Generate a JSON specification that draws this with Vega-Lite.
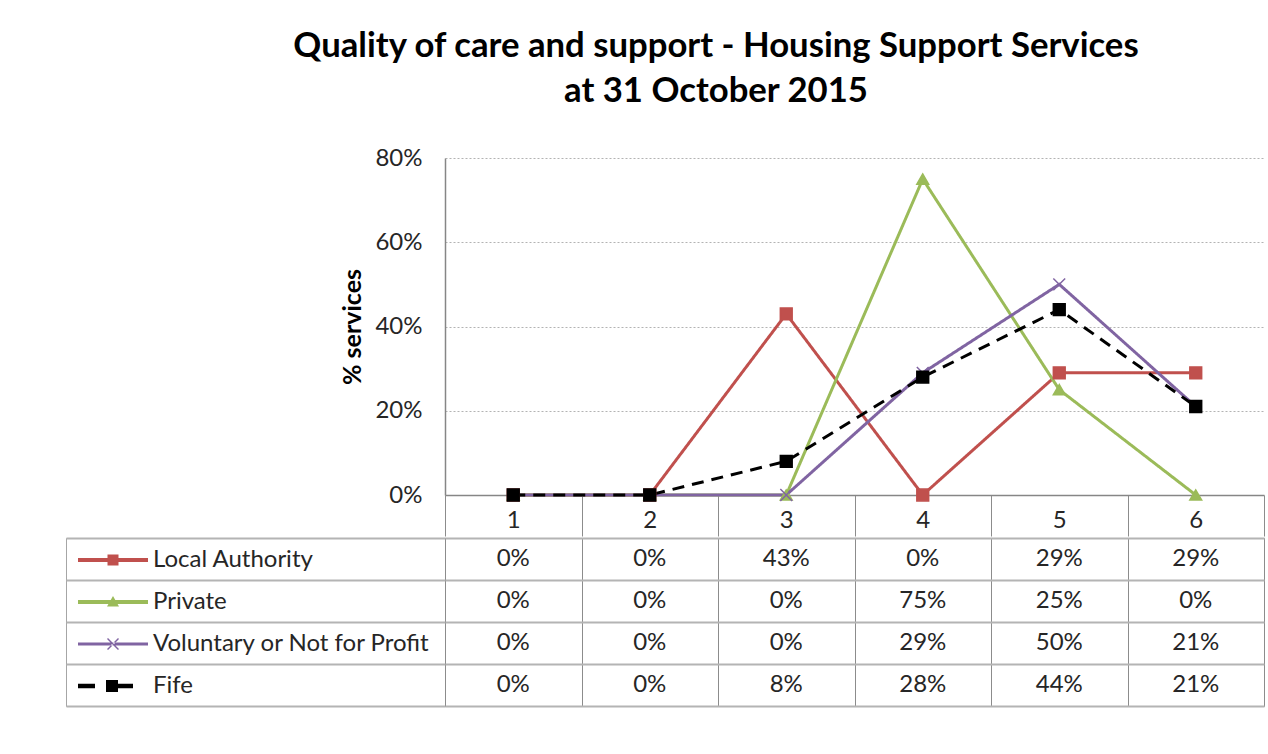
{
  "$schema": "https://vega.github.io/schema/vega-lite/v6.json",
  "padding": {"left": 65, "top": 29, "right": 5, "bottom": 5},
  "title": {
    "text": ["Quality of care and support - Housing Support Services", "at 31 October 2015"],
    "fontSize": 34.7, "lineHeight": 45, "anchor": "middle", "dx": 51, "offset": 36,
    "font": "Lato", "fontWeight": "bold", "color": "#000000"
  },
  "datasets": {
    "main": [
      {"series": "Local Authority", "rating": 1, "value": 0},
      {"series": "Local Authority", "rating": 2, "value": 0},
      {"series": "Local Authority", "rating": 3, "value": 0.43},
      {"series": "Local Authority", "rating": 4, "value": 0},
      {"series": "Local Authority", "rating": 5, "value": 0.29},
      {"series": "Local Authority", "rating": 6, "value": 0.29},
      {"series": "Private", "rating": 1, "value": 0},
      {"series": "Private", "rating": 2, "value": 0},
      {"series": "Private", "rating": 3, "value": 0},
      {"series": "Private", "rating": 4, "value": 0.75},
      {"series": "Private", "rating": 5, "value": 0.25},
      {"series": "Private", "rating": 6, "value": 0},
      {"series": "Voluntary or Not for Profit", "rating": 1, "value": 0},
      {"series": "Voluntary or Not for Profit", "rating": 2, "value": 0},
      {"series": "Voluntary or Not for Profit", "rating": 3, "value": 0},
      {"series": "Voluntary or Not for Profit", "rating": 4, "value": 0.29},
      {"series": "Voluntary or Not for Profit", "rating": 5, "value": 0.50},
      {"series": "Voluntary or Not for Profit", "rating": 6, "value": 0.21},
      {"series": "Fife", "rating": 1, "value": 0},
      {"series": "Fife", "rating": 2, "value": 0},
      {"series": "Fife", "rating": 3, "value": 0.08},
      {"series": "Fife", "rating": 4, "value": 0.28},
      {"series": "Fife", "rating": 5, "value": 0.44},
      {"series": "Fife", "rating": 6, "value": 0.21}
    ]
  },
  "spacing": 0,
  "vconcat": [
    {
      "spacing": 0,
      "bounds": "flush",
      "hconcat": [
        {
          "width": 379,
          "height": 337,
          "data": {"values": []},
          "mark": "point",
          "view": {"stroke": null}
        },
        {
          "width": 819,
          "height": 337,
          "data": {"name": "main"},
          "view": {"stroke": null},
          "encoding": {
            "x": {
              "field": "rating", "type": "ordinal", "bandPosition": 0.5,
              "scale": {"type": "band", "domain": [1, 2, 3, 4, 5, 6], "paddingInner": 0, "paddingOuter": 0},
              "axis": {
                "title": null, "labelAngle": 0, "domainColor": "#868686", "domainWidth": 1.5,
                "ticks": true, "tickBand": "extent", "tickSize": 41, "tickColor": "#8c8c8c",
                "labelPadding": -28, "labelFontSize": 24, "labelColor": "#262626",
                "minExtent": 39, "maxExtent": 39, "grid": false
              }
            },
            "y": {
              "field": "value", "type": "quantitative",
              "scale": {"domain": [0, 0.8], "nice": false},
              "axis": {
                "values": [0, 0.2, 0.4, 0.6, 0.8], "format": ".0%",
                "title": "% services", "titleFontSize": 25, "titleFontWeight": "bold", "titleColor": "#000000",
                "titlePadding": 9, "labelPadding": 23, "labelFontSize": 24, "labelColor": "#262626",
                "ticks": false, "domainColor": "#868686", "domainWidth": 1.5,
                "grid": true, "gridColor": "#b3b3b3", "gridDash": [2, 2]
              }
            }
          },
          "layer": [
            {
              "mark": {"type": "line", "strokeWidth": 3, "strokeCap": "butt"},
              "encoding": {
                "stroke": {
                  "field": "series", "type": "nominal", "legend": null,
                  "scale": {"domain": ["Local Authority", "Private", "Voluntary or Not for Profit", "Fife"], "range": ["#C0504D", "#9BBB59", "#8064A2", "#000000"]}
                },
                "strokeDash": {
                  "field": "series", "type": "nominal", "legend": null,
                  "scale": {"domain": ["Local Authority", "Private", "Voluntary or Not for Profit", "Fife"], "range": [[1, 0], [1, 0], [1, 0], [12, 8]]}
                }
              }
            },
            {
              "mark": {"type": "point", "filled": true, "opacity": 1, "size": 140, "strokeWidth": 1.5},
              "encoding": {
                "fill": {
                  "field": "series", "type": "nominal", "legend": null,
                  "scale": {"domain": ["Local Authority", "Private", "Voluntary or Not for Profit", "Fife"], "range": ["#C0504D", "#9BBB59", "#8064A2", "#000000"]}
                },
                "stroke": {"field": "series", "type": "nominal", "legend": null},
                "shape": {
                  "field": "series", "type": "nominal", "legend": null,
                  "scale": {"domain": ["Local Authority", "Private", "Voluntary or Not for Profit", "Fife"], "range": ["square", "triangle-up", "M-1,-1L1,1M-1,1L1,-1", "square"]}
                }
              }
            }
          ]
        }
      ]
    },
    {
      "spacing": 0,
      "bounds": "flush",
      "hconcat": [
        {
          "width": 379,
          "height": 168,
          "data": {"name": "main"},
          "view": {"stroke": "#a6a6a6"},
          "mark": {"type": "point", "filled": true, "opacity": 0},
          "encoding": {
            "y": {
              "field": "series", "type": "nominal",
              "scale": {"type": "band", "domain": ["Local Authority", "Private", "Voluntary or Not for Profit", "Fife"], "paddingInner": 0, "paddingOuter": 0},
              "axis": {
                "title": null, "labels": false, "ticks": false, "domain": false,
                "grid": true, "tickBand": "extent", "gridColor": "#b4b4b4", "gridWidth": 2,
                "minExtent": 0, "maxExtent": 0
              }
            },
            "color": {
              "field": "series", "type": "nominal",
              "scale": {"domain": ["Local Authority", "Private", "Voluntary or Not for Profit", "Fife"], "range": ["#C0504D", "#9BBB59", "#8064A2", "#000000"]},
              "legend": {"encode": {"symbols": {"update": {"opacity": {"value": 1}}}}}
            },
            "shape": {
              "field": "series", "type": "nominal",
              "scale": {
                "domain": ["Local Authority", "Private", "Voluntary or Not for Profit", "Fife"],
                "range": [
                  "M-1,-0.2H6V0.2H-1Z M1.95,-0.55H3.05V0.55H1.95Z",
                  "M-1,-0.2H6V0.2H-1Z M2.5,-0.6L3.1,0.45H1.9Z",
                  "M-1,-0.15H6V0.15H-1Z M1.9,-0.5L2,-0.6L3.1,0.5L3,0.6Z M3.1,-0.5L3,-0.6L1.9,0.5L2,0.6Z",
                  "M-1,-0.22H0.7V0.22H-1Z M1.8,-0.6H3V0.6H1.8Z M3,-0.22H4.5V0.22H3Z"
                ]
              }
            }
          }
        },
        {
          "width": 819,
          "height": 168,
          "data": {"name": "main"},
          "view": {"stroke": "#a6a6a6"},
          "mark": {"type": "text", "fontSize": 24, "color": "#262626", "align": "center", "baseline": "middle"},
          "encoding": {
            "x": {
              "field": "rating", "type": "ordinal",
              "scale": {"type": "band", "domain": [1, 2, 3, 4, 5, 6], "paddingInner": 0, "paddingOuter": 0},
              "axis": {
                "title": null, "labels": false, "ticks": false, "domain": false,
                "grid": true, "tickBand": "extent", "gridColor": "#8c8c8c", "gridWidth": 1,
                "minExtent": 0, "maxExtent": 0
              }
            },
            "y": {
              "field": "series", "type": "nominal",
              "scale": {"type": "band", "domain": ["Local Authority", "Private", "Voluntary or Not for Profit", "Fife"], "paddingInner": 0, "paddingOuter": 0},
              "axis": {
                "title": null, "labels": false, "ticks": false, "domain": false,
                "grid": true, "tickBand": "extent", "gridColor": "#b4b4b4", "gridWidth": 2,
                "minExtent": 0, "maxExtent": 0
              }
            },
            "text": {"field": "value", "type": "quantitative", "format": ".0%"}
          }
        }
      ]
    }
  ],
  "resolve": {
    "scale": {"shape": "independent", "color": "independent", "stroke": "independent", "fill": "independent", "strokeDash": "independent"}
  },
  "config": {
    "font": "Lato",
    "view": {"stroke": null},
    "legend": {
      "orient": "top-left", "offset": 10, "padding": 0, "title": null,
      "symbolSize": 400, "symbolStrokeWidth": 0, "symbolOpacity": 1,
      "labelFont": "Lato", "labelFontSize": 24, "labelColor": "#262626",
      "labelOffset": 53, "rowPadding": 18, "labelLimit": 600
    }
  }
}
